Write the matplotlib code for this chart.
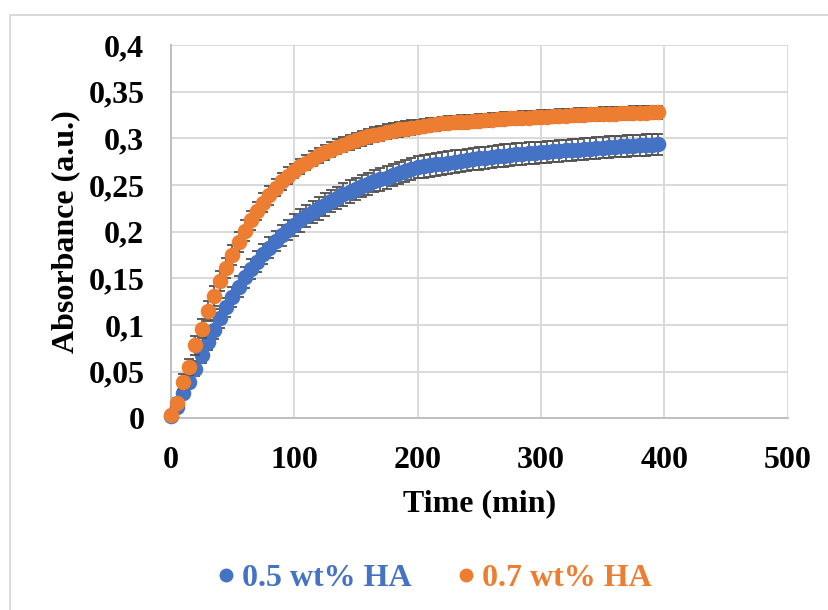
import numpy as np
import matplotlib
matplotlib.use("Agg")
import matplotlib.pyplot as plt
from matplotlib.lines import Line2D

# time axis (min), one reading every 5 min
time_min = list(range(0, 400, 5))

# 0.5 wt% HA
abs_05 = [0.002, 0.012, 0.027, 0.039, 0.053, 0.068, 0.082, 0.095, 0.107, 0.119,
          0.130, 0.141, 0.151, 0.160, 0.168, 0.176, 0.183, 0.190, 0.196, 0.202,
          0.207, 0.212, 0.217, 0.221, 0.225, 0.229, 0.233, 0.236, 0.240, 0.243,
          0.246, 0.249, 0.251, 0.254, 0.256, 0.258, 0.261, 0.263, 0.265, 0.267,
          0.269, 0.270, 0.271, 0.272, 0.273, 0.274, 0.275, 0.276, 0.277, 0.278,
          0.2785, 0.279, 0.280, 0.281, 0.2815, 0.282, 0.283, 0.2835, 0.284, 0.2845,
          0.285, 0.2855, 0.286, 0.2865, 0.287, 0.2875, 0.288, 0.2885, 0.289, 0.2895,
          0.290, 0.2905, 0.291, 0.2915, 0.292, 0.2923, 0.2926, 0.293, 0.2932, 0.2935]
err_05 = [0.003, 0.005, 0.006, 0.007, 0.008, 0.009, 0.009, 0.010, 0.010, 0.010,
          0.011, 0.011, 0.011, 0.011, 0.011, 0.011, 0.011, 0.011, 0.011, 0.011,
          0.012, 0.012, 0.012, 0.012, 0.012, 0.012, 0.012, 0.012, 0.012, 0.012,
          0.012, 0.012, 0.012, 0.012, 0.012, 0.012, 0.012, 0.012, 0.012, 0.012,
          0.012, 0.012, 0.012, 0.012, 0.012, 0.012, 0.012, 0.012, 0.012, 0.012,
          0.012, 0.012, 0.012, 0.012, 0.012, 0.012, 0.012, 0.012, 0.012, 0.012,
          0.0115, 0.0115, 0.0115, 0.0115, 0.0115, 0.0115, 0.0115, 0.0115, 0.0115, 0.0115,
          0.0115, 0.0115, 0.0115, 0.0115, 0.0115, 0.0115, 0.0115, 0.0115, 0.0115, 0.0115]

# 0.7 wt% HA
abs_07 = [0.004, 0.016, 0.039, 0.055, 0.078, 0.096, 0.115, 0.131, 0.147, 0.161,
          0.175, 0.189, 0.201, 0.212, 0.222, 0.231, 0.239, 0.247, 0.254, 0.260,
          0.265, 0.270, 0.274, 0.278, 0.282, 0.285, 0.288, 0.291, 0.293, 0.296,
          0.298, 0.300, 0.302, 0.304, 0.305, 0.307, 0.308, 0.3095, 0.3105, 0.3115,
          0.3125, 0.3135, 0.3145, 0.315, 0.316, 0.3165, 0.317, 0.3175, 0.318, 0.3185,
          0.319, 0.3195, 0.320, 0.3205, 0.321, 0.3213, 0.3216, 0.322, 0.3223, 0.3226,
          0.323, 0.3233, 0.3236, 0.324, 0.3243, 0.3246, 0.325, 0.3253, 0.3256, 0.326,
          0.3262, 0.3264, 0.3266, 0.3268, 0.327, 0.3272, 0.3274, 0.3276, 0.3277, 0.3278]
err_07 = [0.003, 0.006, 0.008, 0.009, 0.010, 0.010, 0.011, 0.011, 0.011, 0.011,
          0.011, 0.011, 0.011, 0.010, 0.010, 0.010, 0.010, 0.009, 0.009, 0.009,
          0.008, 0.008, 0.008, 0.008, 0.008, 0.008, 0.008, 0.008, 0.008, 0.008,
          0.008, 0.008, 0.008, 0.008, 0.008, 0.008, 0.008, 0.008, 0.008, 0.008,
          0.007, 0.007, 0.007, 0.007, 0.007, 0.007, 0.007, 0.007, 0.007, 0.007,
          0.007, 0.007, 0.007, 0.007, 0.007, 0.007, 0.007, 0.007, 0.007, 0.007,
          0.007, 0.007, 0.007, 0.007, 0.007, 0.007, 0.007, 0.007, 0.007, 0.007,
          0.007, 0.007, 0.007, 0.007, 0.007, 0.007, 0.007, 0.007, 0.007, 0.007]

labels = ["0.5 wt% HA", "0.7 wt% HA"]
colors = ["#4472C4", "#ED7D31"]

x_ticks = [0, 100, 200, 300, 400, 500]
y_ticks = [0, 0.05, 0.1, 0.15, 0.2, 0.25, 0.3, 0.35, 0.4]
y_ticklabels = ["0", "0,05", "0,1", "0,15", "0,2", "0,25", "0,3", "0,35", "0,4"]

plt.rcParams['font.family'] = ['Liberation Serif', 'DejaVu Serif']
plt.rcParams['font.weight'] = 'bold'

fs = 23
msize = 11.2

fig = plt.figure(figsize=(8.29, 6.10), dpi=100)
ax = fig.add_axes([0.2059, 0.3143, 0.7443, 0.6119])

err_col = "#505050"
for t, y, e, c, z in [(time_min, abs_05, err_05, colors[0], 3),
                      (time_min, abs_07, err_07, colors[1], 5)]:
    eb = ax.errorbar(t, y, yerr=e, fmt='none', ecolor=err_col, elinewidth=1.2,
                     capsize=3.8, capthick=1.3, zorder=z)
    for art in eb.lines[1] + eb.lines[2]:
        art.set_clip_on(False)
    ax.plot(t, y, 'o', color=c, markersize=msize, markeredgewidth=0,
            zorder=z + 1, clip_on=False)

ax.set_xlim(0, 500)
ax.set_ylim(0, 0.4)
ax.set_xticks(x_ticks)
ax.set_yticks(y_ticks)
ax.set_yticklabels(y_ticklabels)
ax.tick_params(axis='both', length=0, labelsize=fs)
ax.tick_params(axis='x', pad=20)
ax.tick_params(axis='y', pad=19)
for lab in ax.get_xticklabels() + ax.get_yticklabels():
    lab.set_fontweight('bold')

ax.grid(True, color="#D9D9D9", linewidth=1.4, zorder=0)
ax.set_axisbelow(True)
for s in ['top', 'right']:
    ax.spines[s].set_visible(False)
for s in ['left', 'bottom']:
    ax.spines[s].set_color("#BFBFBF")
    ax.spines[s].set_linewidth(1.4)

ax.set_xlabel("Time (min)", fontsize=fs, fontweight='bold', labelpad=10)
ax.set_ylabel("Absorbance (a.u.)", fontsize=fs, fontweight='bold', labelpad=6)

handles = [Line2D([], [], marker='o', linestyle='none', color=c, markersize=10,
                  markeredgewidth=0) for c in colors]
leg = fig.legend(handles, labels, loc='center', bbox_to_anchor=(0.52, 0.052),
                 ncol=2, frameon=False, handletextpad=0.0,
                 columnspacing=1.2, handlelength=1.0,
                 prop={'weight': 'bold', 'size': fs})
for txt, c in zip(leg.get_texts(), colors):
    txt.set_color(c)

# chart area border (only top and left edges are visible)
fig.add_artist(Line2D([10 / 829, 1.0], [1 - 15 / 610, 1 - 15 / 610],
                      color="#D9D9D9", linewidth=1.4, transform=fig.transFigure))
fig.add_artist(Line2D([10 / 829, 10 / 829], [0.0, 1 - 15 / 610],
                      color="#D9D9D9", linewidth=1.4, transform=fig.transFigure))

fig.savefig("out.png", dpi=100)
